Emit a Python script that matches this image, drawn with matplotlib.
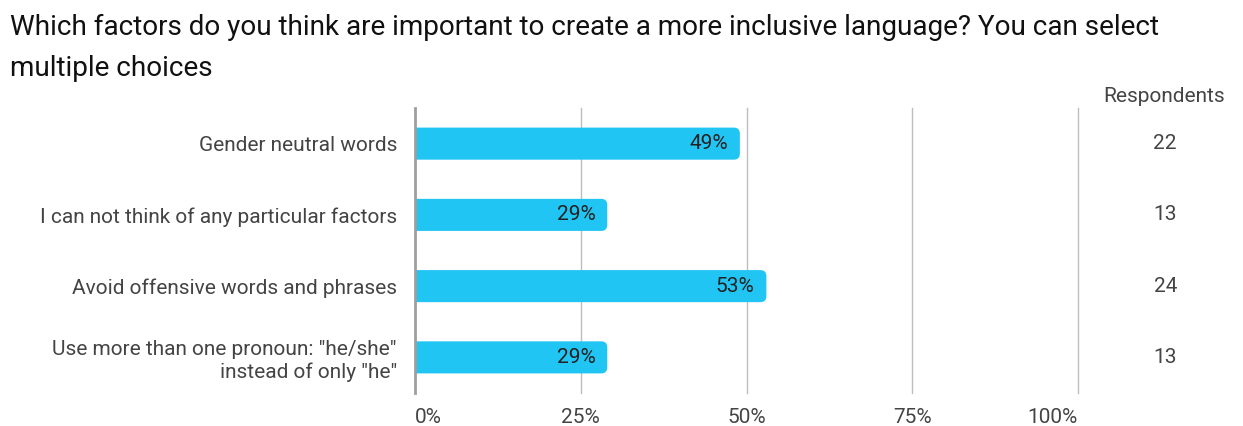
import matplotlib
matplotlib.use("Agg")
import matplotlib.pyplot as plt
from matplotlib.patches import FancyBboxPatch
from matplotlib.transforms import blended_transform_factory

plt.rcParams['font.family'] = ['Roboto', 'DejaVu Sans']

# Dados do gráfico
categories = [
    'Gender neutral words',
    'I can not think of any particular factors',
    'Avoid offensive words and phrases',
    'Use more than one pronoun: "he/she"\ninstead of only "he"',
]
percents = [49, 29, 53, 29]
respondents = [22, 13, 24, 13]
tick_values = [0, 25, 50, 75, 100]
tick_labels = ['0%', '25%', '50%', '75%', '100%']

W, H = 1243, 426
fig = plt.figure(figsize=(W / 100, H / 100), dpi=100)
ax = fig.add_axes([415 / W, 1 - 393 / H, (1078 - 415) / W, (393 - 108) / H])

bar_color = '#21c5f3'
ypos = list(range(len(categories)))
bars = ax.barh(ypos, percents, height=0.45, color='none')

# Barras com a ponta direita arredondada (a ponta esquerda fica cortada pelo eixo)
x_px = (1078 - 415) / 100.0
y_px = (393 - 108) / 4.0
r = 6 / x_px
for b in bars:
    x0, y0 = b.get_x(), b.get_y()
    w, h = b.get_width(), b.get_height()
    ax.add_patch(FancyBboxPatch((x0 - 3 * r, y0), w + 3 * r, h,
                                boxstyle='round,pad=0,rounding_size=%f' % r,
                                mutation_aspect=x_px / y_px,
                                fc=bar_color, ec='none', zorder=3))
    ax.text(x0 + w - 1.8, y0 + h / 2, '%d%%' % w, ha='right', va='center',
            fontsize=15, color='#212121', zorder=4)

ax.set_xlim(0, 100)
ax.set_ylim(3.5, -0.5)

for v in tick_values[1:]:
    ax.axvline(v, color='#bdbdbd', lw=1, zorder=1, clip_on=False)
ax.axvline(0, color='#9e9e9e', lw=2, zorder=5, clip_on=False)

for s in ax.spines.values():
    s.set_visible(False)

ax.set_yticks(ypos)
ax.set_yticklabels(categories, fontsize=15, color='#444444', ha='right')
ax.tick_params(axis='y', length=0, pad=13)

ax.set_xticks(tick_values)
ax.set_xticklabels(tick_labels, fontsize=15, color='#444444')
ax.tick_params(axis='x', length=0, pad=11)
labels = ax.get_xticklabels()
labels[0].set_ha('left')
labels[-1].set_ha('right')

# Coluna de respondentes
fig.text(1164 / W, 1 - 97 / H, 'Respondents', ha='center', va='center',
         fontsize=15, color='#444444')
resp_tr = blended_transform_factory(fig.transFigure, ax.transData)
for i, n in enumerate(respondents):
    ax.text(1177 / W, i, str(n), transform=resp_tr,
            ha='right', va='center', fontsize=15, color='#444444')

fig.text(10 / W, 1 - 14 / H,
         'Which factors do you think are important to create a more inclusive language? You can select\nmultiple choices',
         ha='left', va='top', fontsize=20.1, color='#111111', linespacing=1.65)

fig.savefig('out.png', dpi=100)
